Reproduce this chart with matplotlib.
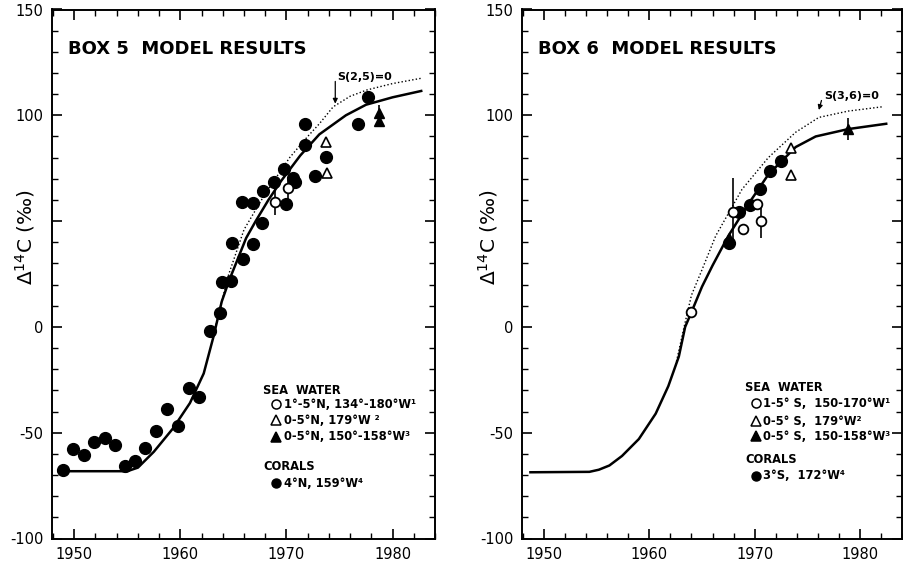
import matplotlib.pyplot as plt
from matplotlib.ticker import MultipleLocator

plt.rcParams['font.family'] = ['DejaVu Sans']
plt.rcParams['axes.unicode_minus'] = False
plt.rcParams['mathtext.default'] = 'regular'

# axis layout shared by both boxes
x_range = (1947.9, 1984.0)
y_range = (-100, 150)
x_ticks = [1950, 1960, 1970, 1980]
y_ticks = [-100, -50, 0, 50, 100, 150]
y_tick_labels = ['-100', '-50', '0', '', '100', '150']

# ---- Box 5 ----
b5_model_yr = [1948.5, 1955.0, 1956.0, 1957.5, 1959.3, 1960.9, 1962.2, 1963.1,
               1963.9, 1964.6, 1965.4, 1966.2, 1967.1, 1968.3, 1969.5, 1971.3,
               1973.1, 1975.6, 1977.5, 1980.0, 1982.7]
b5_model_val = [-68.2, -68.2, -66.5, -59, -48, -36, -22, -5,
                12, 22, 32, 42, 50, 60, 69, 81,
                91, 100, 105, 108.5, 111.5]
b5_nomix_yr = [1963.1, 1963.8, 1964.5, 1966.0, 1968.0, 1970.3, 1972.0, 1973.1,
               1974.4, 1976.0, 1977.6, 1980.0, 1982.7]
b5_nomix_val = [-4, 10, 24, 46, 63, 80, 90, 96,
                104, 109, 112, 115, 117.5]

b5_coral_yr = [1948.9, 1949.9, 1950.9, 1951.9, 1952.9, 1953.8, 1954.8, 1955.7,
               1956.7, 1957.7, 1958.7, 1959.8, 1960.8, 1961.8, 1962.8, 1963.7,
               1963.9, 1964.8, 1964.9, 1965.8, 1965.9, 1966.8, 1966.8, 1967.7,
               1967.8, 1968.8, 1969.8, 1970.0, 1970.6, 1970.8, 1971.7, 1971.7,
               1972.7, 1973.7, 1976.7, 1977.7]
b5_coral_val = [-67.8, -57.7, -60.7, -54.6, -52.5, -56.0, -65.9, -63.5,
                -57.0, -49.0, -39.0, -46.7, -29.0, -32.9, -1.9, 6.6,
                21.0, 21.5, 39.8, 58.8, 31.9, 58.6, 39.2, 49.2,
                64.4, 68.3, 74.6, 58.3, 70.5, 68.5, 85.8, 96.0,
                71.3, 80.3, 96.0, 108.5]
b5_sw1_yr = [1968.9, 1970.1]
b5_sw1_val = [59, 65.5]
b5_sw1_err = [6, 5]
b5_sw2_yr = [1973.7, 1973.8]
b5_sw2_val = [87.5, 72.5]
b5_sw3_yr = [1978.7, 1978.7]
b5_sw3_val = [101, 97.5]
b5_sw3_err = [4, 3]

b5_legend = [
    ('o', False, '1°-5°N, 134°-180°W¹'),
    ('^', False, '0-5°N, 179°W ²'),
    ('^', True, '0-5°N, 150°-158°W³'),
]
b5_coral_label = '4°N, 159°W⁴'

# ---- Box 6 ----
b6_model_yr = [1948.7, 1954.3, 1955.2, 1956.2, 1957.4, 1959.0, 1960.6, 1961.8,
               1962.8, 1963.4, 1964.0, 1965.0, 1966.0, 1967.5, 1969.4, 1971.3,
               1973.9, 1975.8, 1978.9, 1982.5]
b6_model_val = [-68.7, -68.5, -67.5, -65.5, -61, -53, -41, -28,
                -14, 0, 7, 19, 29, 43, 58, 72,
                85, 90, 93.5, 96]
b6_nomix_yr = [1962.5, 1963.3, 1964.0, 1965.0, 1966.3, 1968.8, 1971.3, 1973.9,
               1976.1, 1978.9, 1982.1]
b6_nomix_val = [-18, 0, 15, 27, 43, 65, 80, 92,
                99, 102, 104]

b6_coral_yr = [1967.6, 1968.5, 1969.6, 1970.5, 1971.5, 1972.5]
b6_coral_val = [39.5, 54.5, 57.8, 65.0, 73.5, 78.6]
b6_sw1_yr = [1964.0, 1967.9, 1968.9, 1970.2, 1970.6]
b6_sw1_val = [7.0, 54.5, 46.5, 58.0, 50.0]
b6_sw1_err = [0, 16, 0, 0, 8]
b6_sw2_yr = [1973.5, 1973.5]
b6_sw2_val = [84.5, 72.0]
b6_sw3_yr = [1967.6, 1978.9]
b6_sw3_val = [42.0, 93.5]
b6_sw3_err = [0, 5]

b6_legend = [
    ('o', False, '1-5° S,  150-170°W¹'),
    ('^', False, '0-5° S,  179°W²'),
    ('^', True, '0-5° S,  150-158°W³'),
]
b6_coral_label = '3°S,  172°W⁴'


def style_axes(ax):
    ax.set_xlim(*x_range)
    ax.set_ylim(*y_range)
    ax.set_xticks(x_ticks)
    ax.set_yticks(y_ticks)
    ax.set_yticklabels(y_tick_labels)
    ax.xaxis.set_minor_locator(MultipleLocator(2))
    ax.yaxis.set_minor_locator(MultipleLocator(10))
    ax.tick_params(which='both', direction='in', top=True, right=True,
                   labelsize=10.5)
    ax.tick_params(which='major', length=7, width=1.2, pad=6)
    ax.tick_params(which='minor', length=4, width=1.0)
    for sp in ax.spines.values():
        sp.set_linewidth(1.4)
    ax.set_ylabel(r'$\Delta^{14}$C (‰)', fontsize=14.5)


def draw_box(ax, title, model, nomix, coral, sw1, sw2, sw3, arrow, legend,
             coral_label, leg_pos):
    style_axes(ax)
    ax.plot(*nomix, color='k', lw=1.0, ls=(0, (1, 1.6)), zorder=2)
    ax.plot(*model, color='k', lw=1.8, zorder=3)

    ax.plot(*coral, 'o', color='k', ms=8.5, zorder=4)
    ax.errorbar(sw1[0], sw1[1], yerr=sw1[2], fmt='o', mfc='white', mec='k',
                mew=1.3, ms=7, ecolor='k', elinewidth=1.2, zorder=5)
    ax.plot(*sw2, '^', mfc='white', mec='k', mew=1.2, ms=7.5, zorder=5)
    ax.errorbar(sw3[0], sw3[1], yerr=sw3[2], fmt='^', color='k', ms=7.5,
                ecolor='k', elinewidth=1.2, zorder=5)

    # tracer-mixing switched off marker
    (tx, ty), (ax0, ay0), (ax1, ay1), label = arrow
    ax.text(tx, ty, label, fontsize=8, fontweight='bold', va='center')
    ax.annotate('', xy=(ax1, ay1), xytext=(ax0, ay0),
                arrowprops=dict(arrowstyle='-|>', color='k', lw=0.9,
                                mutation_scale=7, shrinkA=0, shrinkB=0))

    ax.text(1949.4, 131.5, title, fontsize=13, fontweight='bold', va='center')

    # key
    x_head, x_mark, x_text, y_rows = leg_pos
    ax.text(x_head, y_rows[0], 'SEA  WATER', fontsize=8.3, fontweight='bold',
            va='center')
    for (m, filled, txt), y in zip(legend, y_rows[1:4]):
        ax.plot(x_mark, y, m, mfc='k' if filled else 'white', mec='k',
                mew=1.1, ms=6.5)
        ax.text(x_text, y, txt, fontsize=8.3, fontweight='bold', va='center')
    ax.text(x_head, y_rows[4], 'CORALS', fontsize=8.3, fontweight='bold',
            va='center')
    ax.plot(x_mark, y_rows[5], 'o', color='k', ms=6.5)
    ax.text(x_text, y_rows[5], coral_label, fontsize=8.3, fontweight='bold',
            va='center')


fig = plt.figure(figsize=(9.04, 5.67), dpi=100)
ax5 = fig.add_axes([52 / 904, 1 - 538.5 / 567, 383 / 904, 529 / 567])
ax6 = fig.add_axes([522 / 904, 1 - 538.5 / 567, 380 / 904, 529 / 567])

draw_box(ax5, 'BOX 5  MODEL RESULTS',
         (b5_model_yr, b5_model_val), (b5_nomix_yr, b5_nomix_val),
         (b5_coral_yr, b5_coral_val),
         (b5_sw1_yr, b5_sw1_val, b5_sw1_err),
         (b5_sw2_yr, b5_sw2_val),
         (b5_sw3_yr, b5_sw3_val, b5_sw3_err),
         ((1974.8, 118), (1974.6, 116), (1974.6, 105.5), 'S(2,5)=0'),
         b5_legend, b5_coral_label,
         (1967.8, 1969.0, 1969.8, [-29.9, -36.5, -44.1, -52.0, -66.1, -74.0]))

draw_box(ax6, 'BOX 6  MODEL RESULTS',
         (b6_model_yr, b6_model_val), (b6_nomix_yr, b6_nomix_val),
         (b6_coral_yr, b6_coral_val),
         (b6_sw1_yr, b6_sw1_val, b6_sw1_err),
         (b6_sw2_yr, b6_sw2_val),
         (b6_sw3_yr, b6_sw3_val, b6_sw3_err),
         ((1976.6, 109), (1976.35, 107), (1976.1, 102.5), 'S(3,6)=0'),
         b6_legend, b6_coral_label,
         (1969.1, 1970.1, 1970.8, [-28.5, -36.0, -44.6, -51.6, -62.6, -70.4]))

for ax, lx in ((ax5, -0.04), (ax6, -0.058)):
    ax.yaxis.set_label_coords(lx, 0.57)

fig.savefig('out.png', dpi=100)
